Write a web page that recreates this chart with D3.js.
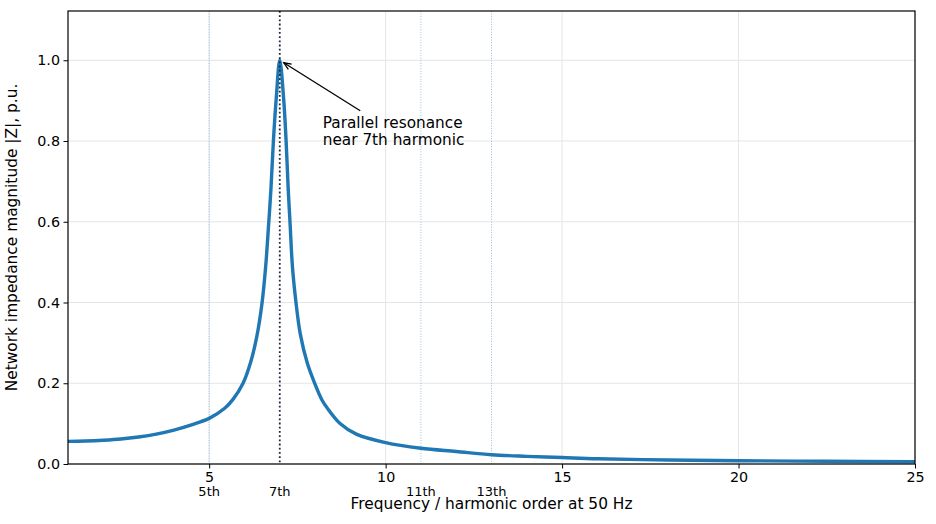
<!DOCTYPE html>
<html lang="en">
<head>
<meta charset="UTF-8">
<title>Network impedance vs harmonic order</title>
<script src="https://cdn.jsdelivr.net/npm/d3@7/dist/d3.min.js"></script>
<style>
  body { margin: 0; background: #fff; }
  text { font-family: "DejaVu Sans", sans-serif; fill: #000; }
</style>
</head>
<body>
<script>
    // harmonic order (x) and |Z| in p.u. (y)
    var harmonic = [1.0, 1.5, 2.0, 2.5, 3.0, 3.5, 4.0, 4.5, 5.0, 5.44, 5.675, 5.96, 6.175, 6.355, 6.5, 6.6, 6.69, 6.75, 6.82, 6.9, 7.0,
                    7.11, 7.18, 7.24, 7.29, 7.36, 7.46, 7.58, 7.78, 7.99, 8.2, 8.35, 8.7, 9.17, 10, 11, 12, 13, 14, 15, 16, 18, 20, 22.5, 25];
    var impedance = [0.056, 0.057, 0.059, 0.062, 0.067, 0.074, 0.084, 0.097, 0.113, 0.138, 0.16, 0.2, 0.252, 0.318, 0.4, 0.488, 0.6, 0.68, 0.8, 0.905, 1.0,
                     0.905, 0.8, 0.68, 0.6, 0.488, 0.4, 0.323, 0.25, 0.2, 0.158, 0.138, 0.101, 0.074, 0.053, 0.039, 0.031, 0.023, 0.019, 0.016, 0.013, 0.010, 0.008, 0.0068, 0.0057];

    var xTicks = [5, 10, 15, 20, 25];
    var yTicks = [0.0, 0.2, 0.4, 0.6, 0.8, 1.0];
    var harmonicMarks = [5, 7, 11, 13];
    var harmonicLabels = ["5th", "7th", "11th", "13th"];
    var resonanceOrder = 7;
    var resonancePeak = 1.0;

    var width = 936, height = 524;
    var margin = {top: 11, right: 21, bottom: 60, left: 68};
    var w = width - margin.left - margin.right;
    var h = height - margin.top - margin.bottom;

    var svg = d3.select("body").append("svg")
        .attr("width", width)
        .attr("height", height);

    var g = svg.append("g")
        .attr("transform", "translate(" + margin.left + "," + margin.top + ")");

    var x = d3.scaleLinear().domain([1, 25]).range([0, w]);
    var y = d3.scaleLinear().domain([0, 1.122]).range([h, 0]);

    // grid
    g.selectAll(".gy").data(yTicks).enter().append("line")
        .attr("x1", 0).attr("x2", w)
        .attr("y1", function (d) { return y(d); })
        .attr("y2", function (d) { return y(d); })
        .style("stroke", "#e5e5e5").style("stroke-width", 1);
    g.selectAll(".gx").data(xTicks).enter().append("line")
        .attr("x1", function (d) { return x(d); })
        .attr("x2", function (d) { return x(d); })
        .attr("y1", 0).attr("y2", h)
        .style("stroke", "#e5e5e5").style("stroke-width", 1);

    // harmonic marker lines (not the resonance one, drawn later on top)
    g.selectAll(".hm").data(harmonicMarks.filter(function (d) { return d !== resonanceOrder; }))
        .enter().append("line")
        .attr("x1", function (d) { return x(d); })
        .attr("x2", function (d) { return x(d); })
        .attr("y1", 0).attr("y2", h)
        .style("stroke", "#8fb8da")
        .style("stroke-width", 0.9)
        .style("stroke-dasharray", "1,1.6");

    // curve
    var pts = harmonic.map(function (d, i) { return [d, impedance[i]]; });
    var line = d3.line()
        .x(function (d) { return x(d[0]); })
        .y(function (d) { return y(d[1]); })
        .curve(d3.curveCatmullRom.alpha(0.5));

    g.append("path")
        .datum(pts)
        .attr("d", line)
        .style("fill", "none")
        .style("stroke", "#1f77b4")
        .style("stroke-width", 3.4)
        .style("stroke-linejoin", "round");

    // resonance marker on top so the dots show through the curve
    g.append("line")
        .attr("x1", x(resonanceOrder)).attr("x2", x(resonanceOrder))
        .attr("y1", 0).attr("y2", h)
        .style("stroke", "#1b2838").style("stroke-width", 1.8)
        .style("stroke-dasharray", "1.8,2.4");

    // axes
    var xAxis = d3.axisBottom(x).tickValues(xTicks).tickSize(4.5).tickPadding(3.5)
        .tickFormat(d3.format("d"));
    var yAxis = d3.axisLeft(y).tickValues(yTicks).tickSize(4.5).tickPadding(3.5)
        .tickFormat(d3.format(".1f"));

    var gx = g.append("g").attr("transform", "translate(0," + h + ")").call(xAxis);
    var gy = g.append("g").call(yAxis);
    [gx, gy].forEach(function (a) {
        a.select(".domain").remove();
        a.selectAll("line").style("stroke", "#000").style("stroke-width", 1);
        a.selectAll("text").style("font-size", "14.3px").style("fill", "#000");
    });

    // frame
    g.append("rect")
        .attr("width", w).attr("height", h)
        .style("fill", "none").style("stroke", "#000").style("stroke-width", 1.2);

    // harmonic labels under the axis
    g.selectAll(".hl").data(harmonicMarks).enter().append("text")
        .attr("x", function (d) { return x(d); })
        .attr("y", h + 32)
        .attr("text-anchor", "middle")
        .style("font-size", "13px")
        .text(function (d, i) { return harmonicLabels[i]; });

    // axis titles
    g.append("text")
        .attr("x", w / 2).attr("y", h + 45)
        .attr("text-anchor", "middle")
        .style("font-size", "15.4px")
        .text("Frequency / harmonic order at 50 Hz");

    g.append("text")
        .attr("transform", "translate(" + (-51) + "," + (h / 2) + ") rotate(-90)")
        .attr("text-anchor", "middle")
        .style("font-size", "15.4px")
        .text("Network impedance magnitude |Z|, p.u.");

    // annotation
    var tipX = x(resonanceOrder) + 4, tipY = y(resonancePeak) + 2.5;
    var fromX = x(resonanceOrder) + 80.5, fromY = y(resonancePeak) + 50.5;
    g.append("line")
        .attr("x1", fromX).attr("y1", fromY)
        .attr("x2", tipX).attr("y2", tipY)
        .style("stroke", "#000").style("stroke-width", 1.3);
    var ang = Math.atan2(fromY - tipY, fromX - tipX);
    var hl = 8, spread = 0.4;
    g.append("path")
        .attr("d", "M" + (tipX + hl * Math.cos(ang - spread)) + "," + (tipY + hl * Math.sin(ang - spread)) +
                   "L" + tipX + "," + tipY +
                   "L" + (tipX + hl * Math.cos(ang + spread)) + "," + (tipY + hl * Math.sin(ang + spread)))
        .style("fill", "none").style("stroke", "#000").style("stroke-width", 1.3);

    var note = g.append("text")
        .attr("x", x(resonanceOrder) + 43)
        .attr("y", y(resonancePeak) + 68)
        .style("font-size", "15.3px");
    note.append("tspan").text("Parallel resonance");
    note.append("tspan")
        .attr("x", x(resonanceOrder) + 43).attr("dy", 17)
        .text("near 7th harmonic");
</script>
</body>
</html>
